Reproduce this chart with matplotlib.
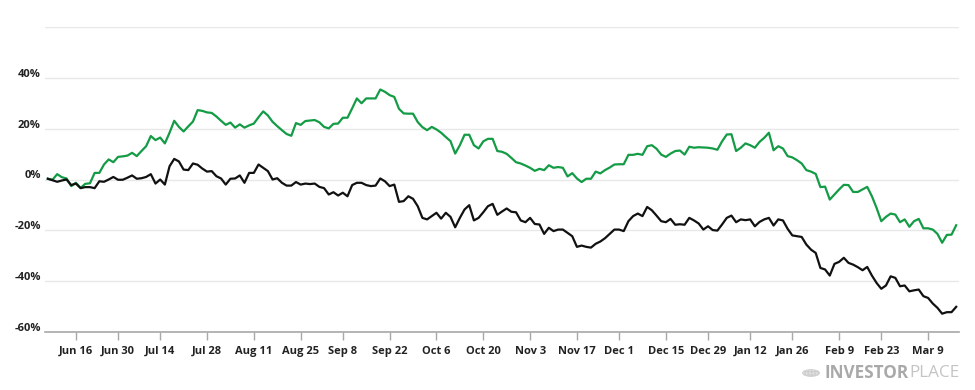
import matplotlib
matplotlib.use("Agg")
import matplotlib.pyplot as plt
import numpy as np
import pandas as pd
from matplotlib.transforms import ScaledTranslation
from matplotlib.patches import Circle

# ---------------- data ----------------
start_date = "2025-06-06"
end_date = "2026-03-17"
holidays = ["2025-06-19", "2025-07-04", "2025-09-01", "2025-11-27",
            "2025-12-25", "2026-01-01", "2026-01-19", "2026-02-16"]

tick_dates = ["2025-06-16", "2025-06-30", "2025-07-14", "2025-07-28", "2025-08-11",
              "2025-08-25", "2025-09-08", "2025-09-22", "2025-10-06", "2025-10-20",
              "2025-11-03", "2025-11-17", "2025-12-01", "2025-12-15", "2025-12-29",
              "2026-01-12", "2026-01-26", "2026-02-09", "2026-02-23", "2026-03-09"]
tick_labels = ["Jun 16", "Jun 30", "Jul 14", "Jul 28", "Aug 11", "Aug 25", "Sep 8",
               "Sep 22", "Oct 6", "Oct 20", "Nov 3", "Nov 17", "Dec 1", "Dec 15",
               "Dec 29", "Jan 12", "Jan 26", "Feb 9", "Feb 23", "Mar 9"]

green = [
    0.3, -0.1, 2.1, 0.9, 0.4, -2.6, -1.3, -3.3, -1.7, -1.5,
    2.6, 2.6, 5.9, 7.9, 6.8, 8.9, 9.1, 9.4, 10.5, 9.2,
    11.2, 13.1, 17.1, 15.5, 16.5, 14.2, 18.4, 23.1, 20.7, 18.9,
    20.9, 22.8, 27.3, 27.0, 26.4, 26.2, 24.8, 23.1, 21.5, 22.4,
    20.4, 21.7, 20.4, 21.3, 22.0, 24.5, 26.8, 25.2, 22.7, 21.0,
    19.4, 17.9, 17.2, 22.2, 21.5, 23.0, 23.2, 23.4, 22.5, 20.7,
    20.1, 21.9, 22.0, 24.3, 24.3, 28.0, 31.9, 30.0, 31.9, 31.9,
    31.9, 35.4, 34.5, 33.2, 32.5, 27.8, 26.0, 25.9, 25.9, 22.6,
    20.6, 19.4, 20.7, 19.7, 18.4, 16.7, 15.1, 10.2, 13.5, 17.6,
    17.6, 13.5, 12.2, 15.0, 16.0, 16.0, 11.2, 10.9, 10.1, 8.5,
    6.8, 6.3, 5.5, 4.6, 3.4, 4.2, 3.7, 5.6, 4.6, 4.9,
    4.6, 1.2, 2.5, 0.4, -1.0, 0.3, 0.3, 3.1, 2.4, 3.7,
    4.7, 5.9, 6.0, 6.0, 9.7, 9.7, 10.1, 9.7, 13.1, 13.5,
    12.1, 9.8, 8.9, 10.2, 11.2, 11.4, 9.8, 12.9, 12.5, 12.7,
    12.6, 12.5, 12.2, 11.7, 15.0, 17.7, 17.8, 11.2, 12.5, 14.2,
    13.5, 12.5, 14.8, 16.4, 18.4, 11.5, 13.1, 12.2, 9.2, 8.7,
    7.6, 6.3, 3.7, 3.1, 2.2, -3.0, -2.8, -7.9, -5.9, -3.9,
    -2.1, -2.2, -4.9, -4.9, -3.9, -2.9, -6.6, -11.2, -16.4, -14.7,
    -13.4, -13.8, -16.8, -15.7, -18.6, -16.4, -15.5, -19.2, -19.2, -19.7,
    -21.4, -24.9, -21.8, -21.7, -18.0,
]

black = [
    0.3, -0.3, -0.9, -0.4, 0.0, -2.2, -1.6, -3.4, -3.0, -3.0,
    -3.4, -0.7, -0.9, 0.0, 1.0, -0.1, -0.1, 0.7, 1.6, 0.3,
    0.5, 1.0, 2.1, -1.6, 0.0, -2.0, 5.2, 8.1, 7.1, 3.9,
    3.7, 6.3, 5.8, 4.3, 3.1, 3.3, 1.3, 0.4, -2.0, 0.3,
    0.4, 1.6, -1.3, 2.6, 2.6, 5.9, 4.6, 3.3, 0.0, 0.5,
    -1.3, -2.4, -2.4, -1.0, -2.0, -1.6, -1.8, -1.6, -2.9, -3.4,
    -5.9, -5.0, -6.3, -5.2, -6.6, -2.2, -1.3, -1.3, -2.2, -2.6,
    -2.4, 0.4, -0.7, -2.6, -2.0, -8.8, -8.5, -6.6, -7.6, -10.5,
    -15.1, -15.7, -14.4, -13.1, -15.4, -13.1, -14.7, -18.8, -15.1, -11.8,
    -10.1, -16.1, -15.1, -12.9, -10.5, -9.6, -13.9, -12.6, -11.4, -12.7,
    -12.9, -16.1, -16.8, -15.1, -17.5, -17.7, -21.4, -19.0, -20.3, -19.7,
    -19.7, -21.0, -22.3, -26.5, -26.0, -26.5, -26.8, -25.3, -24.4, -23.1,
    -21.4, -19.7, -19.7, -20.3, -16.4, -14.4, -13.4, -14.4, -10.8, -12.1,
    -14.2, -16.4, -16.8, -15.5, -17.8, -17.6, -17.8, -15.1, -16.1, -17.3,
    -19.7, -18.4, -19.9, -20.1, -17.7, -15.1, -14.2, -16.8, -15.7, -16.0,
    -15.7, -18.4, -16.7, -15.7, -15.1, -18.1, -15.7, -16.1, -19.4, -22.0,
    -22.3, -22.6, -25.6, -27.6, -28.9, -34.8, -35.4, -37.8, -33.2, -32.4,
    -30.8, -32.8, -33.5, -34.5, -35.7, -34.4, -37.8, -40.7, -43.0, -41.7,
    -38.1, -38.7, -42.0, -41.7, -44.0, -43.6, -43.3, -45.9, -46.6, -48.8,
    -50.5, -52.8, -52.2, -52.2, -50.1,
]

y_ticks = [-60, -40, -20, 0, 20, 40, 60]
y_labels = ["-60%", "-40%", "-20%", "0%", "20%", "40%", ""]

# ---------------- plot ----------------
hol = set(pd.to_datetime(holidays))
dates = [d for d in pd.bdate_range(start_date, end_date) if d not in hol]
pos = {d: i for i, d in enumerate(dates)}
tick_pos = [pos[pd.Timestamp(t)] for t in tick_dates]

W, H = 975, 390
fig = plt.figure(figsize=(W / 100, H / 100), dpi=100)
ax = fig.add_axes([45 / W, 1 - 332 / H, (959 - 45) / W, (332 - 27) / H])

xg = np.arange(len(green))
xb = np.arange(len(black))
ax.plot(xg, green, color="#149b45", lw=1.6, solid_joinstyle="round", zorder=3)
ax.plot(xb, black, color="#111111", lw=1.6, solid_joinstyle="round", zorder=4)

ax.set_xlim(-0.6, 194.6)
ax.set_ylim(-60, 60)

ax.set_yticks(y_ticks)
ax.set_yticklabels(y_labels)
ax.yaxis.grid(True, color="#e8e8e8", lw=1.0, zorder=0)
ax.set_axisbelow(True)
ax.tick_params(axis="y", length=0, pad=3)

ax.set_xticks(tick_pos)
ax.set_xticklabels(tick_labels)
ax.tick_params(axis="x", direction="out", length=6, width=1, color="#a8a8a8", pad=4)

for s in ["top", "right", "left"]:
    ax.spines[s].set_visible(False)
ax.spines["bottom"].set_color("#a8a8a8")
ax.spines["bottom"].set_linewidth(1.2)

for lab in ax.get_xticklabels() + ax.get_yticklabels():
    lab.set_fontfamily("Open Sans")
    lab.set_fontweight("bold")
    lab.set_fontsize(8)
    lab.set_color("#222222")

off = ScaledTranslation(0, 5 / 100, fig.dpi_scale_trans)
for lab in ax.get_yticklabels():
    lab.set_transform(lab.get_transform() + off)

# watermark
wy = 1 - 373 / H
t1 = fig.text(825 / W, wy, "INVESTOR", fontfamily="Open Sans", fontweight="bold",
              fontsize=12.3, color="#a9a9a9", ha="left", va="center")
fig.canvas.draw()
bb = t1.get_window_extent()
fig.text(bb.x1 / W, wy, "PLACE", fontfamily="Open Sans", fontweight="normal",
         fontsize=12.3, color="#c4c4c4", ha="left", va="center")
globe = Circle((811 / W, wy), 8.5 / W, transform=fig.transFigure,
               facecolor="#e4e4e4", edgecolor="#cfcfcf", lw=0.6, hatch="+++++")
fig.patches.append(globe)

fig.savefig("out.png", dpi=100)
